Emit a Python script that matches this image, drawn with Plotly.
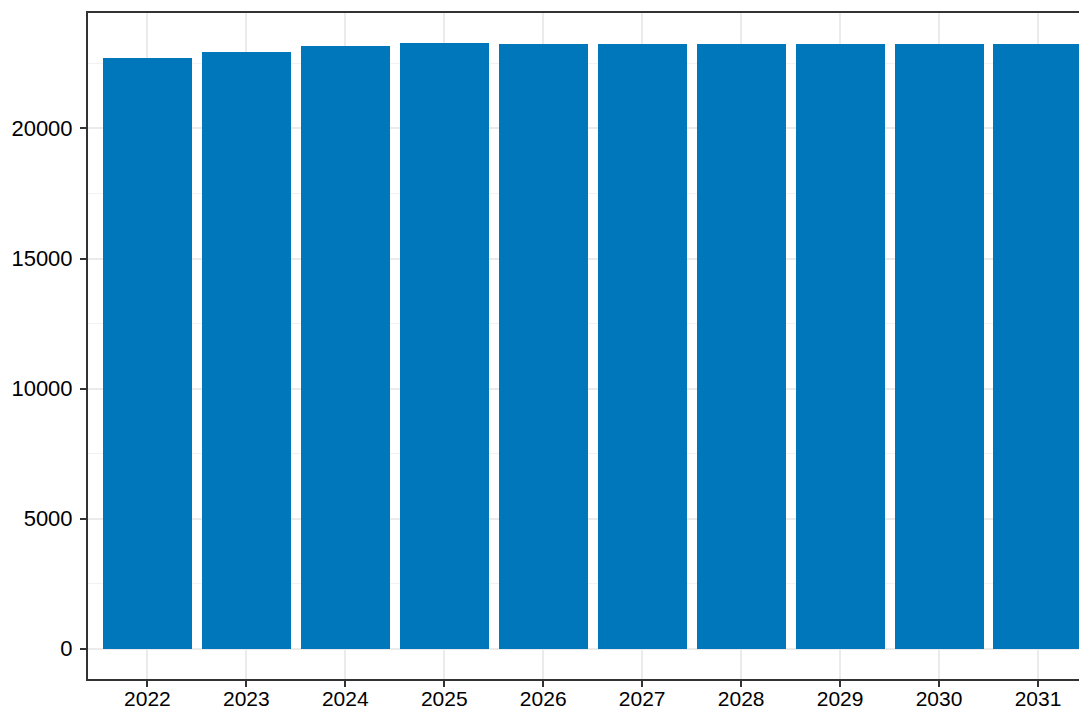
import plotly.graph_objects as go

years = ['2022', '2023', '2024', '2025', '2026', '2027', '2028', '2029', '2030', '2031']
values = [22690, 22955, 23160, 23275, 23265, 23265, 23265, 23260, 23230, 23230]

y_ticks = [0, 5000, 10000, 15000, 20000]

fig = go.Figure()

fig.add_trace(go.Bar(
    x=list(range(len(years))),
    y=values,
    width=0.9,
    marker=dict(color='#0077BB', line=dict(width=0)),
    hoverinfo='x+y',
))

ymax = max(values)
pad = 0.05 * ymax

# page body has an 8px margin, so the figure is shifted by 8px
fig.update_layout(
    width=1079,
    height=711,
    margin=dict(l=80, r=0, t=5, b=40, autoexpand=False),
    plot_bgcolor='white',
    paper_bgcolor='white',
    showlegend=False,
    font=dict(family='Liberation Sans, Arial, sans-serif', size=22, color='#000000'),
    xaxis=dict(
        range=[-0.6, 9.495],
        tickmode='array',
        tickvals=list(range(len(years))),
        ticktext=years,
        tickfont=dict(size=21),
        automargin=False,
        showgrid=True,
        gridcolor='#ebebeb',
        gridwidth=2,
        zeroline=False,
        showline=True,
        linecolor='#333333',
        linewidth=2,
        mirror=True,
        ticks='outside',
        ticklen=6,
        tickwidth=2,
        tickcolor='#333333',
        ticklabelstandoff=-6,
    ),
    yaxis=dict(
        range=[-pad, ymax + pad],
        tickmode='array',
        tickvals=y_ticks,
        ticktext=[str(v) for v in y_ticks],
        automargin=False,
        showgrid=True,
        gridcolor='#ebebeb',
        gridwidth=2,
        minor=dict(showgrid=True, dtick=2500, tick0=0, gridcolor='#f2f2f2', gridwidth=1),
        zeroline=False,
        showline=True,
        linecolor='#333333',
        linewidth=2,
        mirror=False,
        ticks='outside',
        ticklen=6,
        tickwidth=2,
        tickcolor='#333333',
        ticklabelstandoff=3,
    ),
    bargap=0,
)

fig.write_html("out.html")
